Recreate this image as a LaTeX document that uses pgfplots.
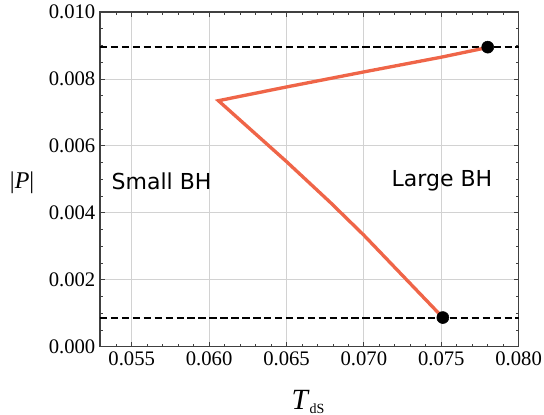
\documentclass[border=0pt]{standalone}
\usepackage{pgfplots}
\pgfplotsset{compat=1.18}
\usepackage{fontspec}
\setmainfont{Liberation Serif}
\newfontfamily\serf{Liberation Serif}
\newfontfamily\sansf{DejaVu Sans}
\definecolor{curve}{RGB}{239,101,72}
\begin{document}
\begin{tikzpicture}
\path[use as bounding box] (-75pt,-51.2pt) rectangle (333pt,260pt);
\begin{axis}[
  at={(0pt,0pt)}, anchor=south west,
  scale only axis, width=314pt, height=251pt,
  xmin=0.05295, xmax=0.080, ymin=0, ymax=0.010,
  xtick={0.055,0.060,0.065,0.070,0.075,0.080},
  minor xtick={0.054,0.056,0.057,0.058,0.059,0.061,0.062,0.063,0.064,0.066,0.067,0.068,0.069,0.071,0.072,0.073,0.074,0.076,0.077,0.078,0.079},
  ytick={0,0.002,0.004,0.006,0.008,0.010},
  minor y tick num=3,
  scaled ticks=false,
  xticklabel={\serf\pgfmathprintnumber[fixed,fixed zerofill,precision=3,assume math mode=true]{\tick}},
  yticklabel={\serf\pgfmathprintnumber[fixed,fixed zerofill,precision=3,assume math mode=true]{\tick}},
  tick label style={font=\serf\fontsize{15.5}{18}\selectfont},
  tick align=inside,
  major tick length=3.75pt, minor tick length=2.2pt,
  xmajorgrids, ymajorgrids,
  major grid style={gray!35, line width=0.6pt},
  axis line style={black!75, line width=0.8pt},
  tick style={black!75, line width=0.6pt},
  clip=false,
]
\addplot[black, line width=1.5pt, dash pattern=on 5.6pt off 2.6pt, forget plot] coordinates {(0.05295,0.00895)(0.080,0.00895)};
\addplot[black, line width=1.5pt, dash pattern=on 5.6pt off 2.6pt, forget plot] coordinates {(0.05295,0.00087)(0.080,0.00087)};
\addplot[curve, line width=2.5pt, line join=miter, no markers] coordinates {
(0.0780,0.00894)(0.0750,0.00865)(0.0700,0.00821)(0.0650,0.00776)(0.0606,0.00735)
(0.0650,0.00553)(0.06783,0.00431)(0.0700,0.00333)(0.0751,0.00087)};
\addplot[only marks, mark=*, mark size=4.5pt, black] coordinates {(0.0780,0.00895)(0.0751,0.00087)};
\node[font=\sansf\fontsize{16.5}{20}\selectfont] at (axis cs:0.05693,0.00495) {Small BH};
\node[font=\sansf\fontsize{16.5}{20}\selectfont] at (axis cs:0.07504,0.00495) {Large BH};
\node[anchor=base, font=\serf\fontsize{22}{24}\selectfont] at (axis description cs:0.497,-0.189) {\textit{T}\raisebox{-2.8pt}{\fontsize{10.5}{11}\selectfont dS}};
\node[font=\serf\fontsize{18}{20}\selectfont] at (axis description cs:-0.186,0.489) {|\textit{P}|};
\end{axis}
\end{tikzpicture}
\end{document}
